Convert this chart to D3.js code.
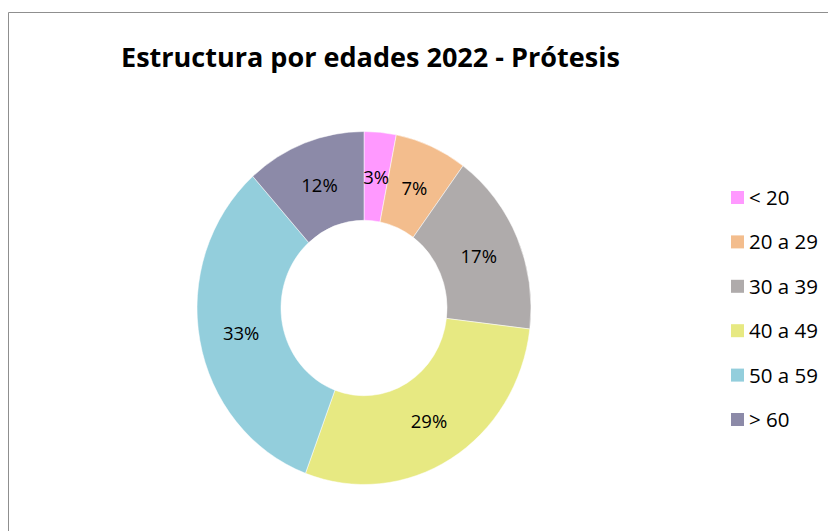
<!DOCTYPE html>
<html>
<head>
<meta charset="utf-8">
<script src="https://cdn.jsdelivr.net/npm/d3@7"></script>
<style>
  html, body { margin: 0; padding: 0; background: #fff; }
  svg { display: block; }
  text { font-family: "Open Sans", "Noto Sans", sans-serif; fill: #000; }
</style>
</head>
<body>
<svg id="chart" width="828" height="531"></svg>
<script>
const title = "Estructura por edades 2022 - Prótesis";
const categories = ["< 20", "20 a 29", "30 a 39", "40 a 49", "50 a 59", "> 60"];
const values = [3.1, 7.0, 16.8, 28.8, 32.7, 11.6];
const colors = ["#FF99FF", "#F3BD8D", "#AFABAB", "#E7E982", "#93CEDC", "#8C8AA8"];

const svg = d3.select("#chart");

// chart frame
svg.append("path")
  .attr("d", "M8.5,531 V12.5 H828")
  .attr("fill", "none")
  .attr("stroke", "#8f8f8f")
  .attr("stroke-width", 1);

// title
const t = svg.append("text")
  .attr("x", 121)
  .attr("y", 67)
  .attr("font-weight", "bold")
  .attr("font-size", 28)
  .text(title);
// fit title to reference width
const tw = t.node().getComputedTextLength();
t.attr("font-size", 28 * 499 / tw);

// donut
const cx = 364, cy = 308;
const rOuter = 167, rInner = 83, sy = 176.5 / 167;
const total = d3.sum(values);
const data = categories.map((c, i) => ({ c, v: values[i], color: colors[i] }));

const pie = d3.pie().value(d => d.v).sort(null);
const arc = d3.arc().innerRadius(rInner).outerRadius(rOuter);
const labelArc = d3.arc().innerRadius((rInner + rOuter) / 2).outerRadius((rInner + rOuter) / 2);
const arcs = pie(data);

const g = svg.append("g").attr("transform", `translate(${cx},${cy}) scale(1,${sy})`);
g.selectAll("path")
  .data(arcs)
  .enter().append("path")
  .attr("d", arc)
  .attr("fill", d => d.data.color)
  .attr("stroke", "#ffffff")
  .attr("stroke-width", 0.5);

const lg = svg.append("g").attr("transform", `translate(${cx},${cy})`);
lg.selectAll("text")
  .data(arcs)
  .enter().append("text")
  .attr("x", d => labelArc.centroid(d)[0])
  .attr("y", d => labelArc.centroid(d)[1] * sy)
  .attr("text-anchor", "middle")
  .attr("dominant-baseline", "central")
  .attr("font-size", 18.5)
  .text(d => Math.round(d.data.v / total * 100) + "%");

// legend
const legendTop = 191, legendStep = 44.4;
const leg = svg.append("g");
const items = leg.selectAll("g")
  .data(data)
  .enter().append("g")
  .attr("transform", (d, i) => `translate(731,${legendTop + i * legendStep})`);
items.append("rect")
  .attr("width", 13)
  .attr("height", 13)
  .attr("fill", d => d.color);
items.append("text")
  .attr("x", 18)
  .attr("y", 14)
  .attr("font-size", 20.5)
  .text(d => d.c);
</script>
</body>
</html>
